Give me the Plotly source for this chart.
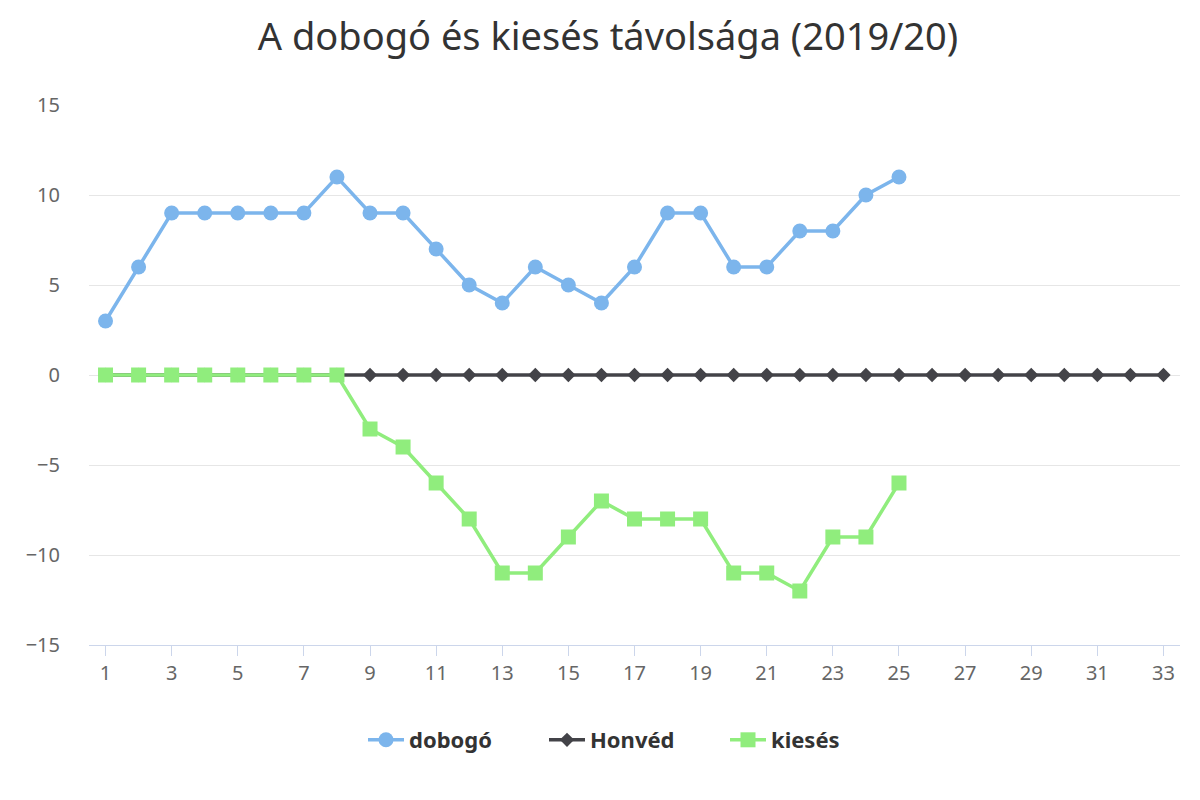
import plotly.graph_objects as go

fordulo = list(range(1, 34))
dobogo = [3, 6, 9, 9, 9, 9, 9, 11, 9, 9, 7, 5, 4, 6, 5, 4, 6, 9, 9, 6, 6, 8, 8, 10, 11]
honved = [0] * 33
kieses = [0, 0, 0, 0, 0, 0, 0, 0, -3, -4, -6, -8, -11, -11, -9, -7, -8, -8, -8, -11, -11, -12, -9, -9, -6]

FONT = "Noto Sans"
OFF = 8  # page body margin shifts the figure

fig = go.Figure()
fig.add_trace(go.Scatter(
    x=fordulo[:len(dobogo)], y=dobogo, name="dobogó", mode="lines+markers",
    line=dict(color="#7cb5ec", width=3.5),
    marker=dict(symbol="circle", size=15, color="#7cb5ec"),
))
fig.add_trace(go.Scatter(
    x=fordulo, y=honved, name="Honvéd", mode="lines+markers",
    line=dict(color="#434348", width=3.5),
    marker=dict(symbol="diamond", size=11, color="#434348"),
))
fig.add_trace(go.Scatter(
    x=fordulo[:len(kieses)], y=kieses, name="kiesés", mode="lines+markers",
    line=dict(color="#90ed7d", width=3.5),
    marker=dict(symbol="square", size=15, color="#90ed7d"),
))

fig.update_layout(
    width=1200, height=800,
    paper_bgcolor="white", plot_bgcolor="white",
    margin=dict(l=89 - OFF, r=20 + OFF, t=105 - OFF, b=155 + OFF),
    font=dict(family=FONT, color="#666666", size=18),
    title=dict(text="A dobogó és kiesés távolsága (2019/20)", x=0.5, xanchor="center",
               y=1 - (37 - OFF) / 800, yanchor="middle", yref="container",
               font=dict(size=38, color="#333333", family=FONT)),
    xaxis=dict(range=[0.5, 33.5], tick0=1, dtick=2, showgrid=False, zeroline=False,
               showline=True, linecolor="#ccd6eb", linewidth=1,
               ticks="outside", ticklen=10, tickcolor="#ccd6eb",
               tickfont=dict(size=20, color="#666666")),
    yaxis=dict(range=[-15, 15], dtick=5, showgrid=True, gridcolor="#e6e6e6", gridwidth=1,
               zeroline=False, showline=False, ticks="", ticklabelstandoff=28,
               tickfont=dict(size=20, color="#666666")),
    legend=dict(orientation="h", x=0.5, xanchor="center", y=1 - (740 - OFF) / 800,
                yanchor="middle", yref="container",
                font=dict(size=22, color="#333333", family=FONT, weight="bold"),
                itemwidth=36, entrywidth=130, traceorder="normal"),
    showlegend=True,
)

fig.write_html("out.html")
